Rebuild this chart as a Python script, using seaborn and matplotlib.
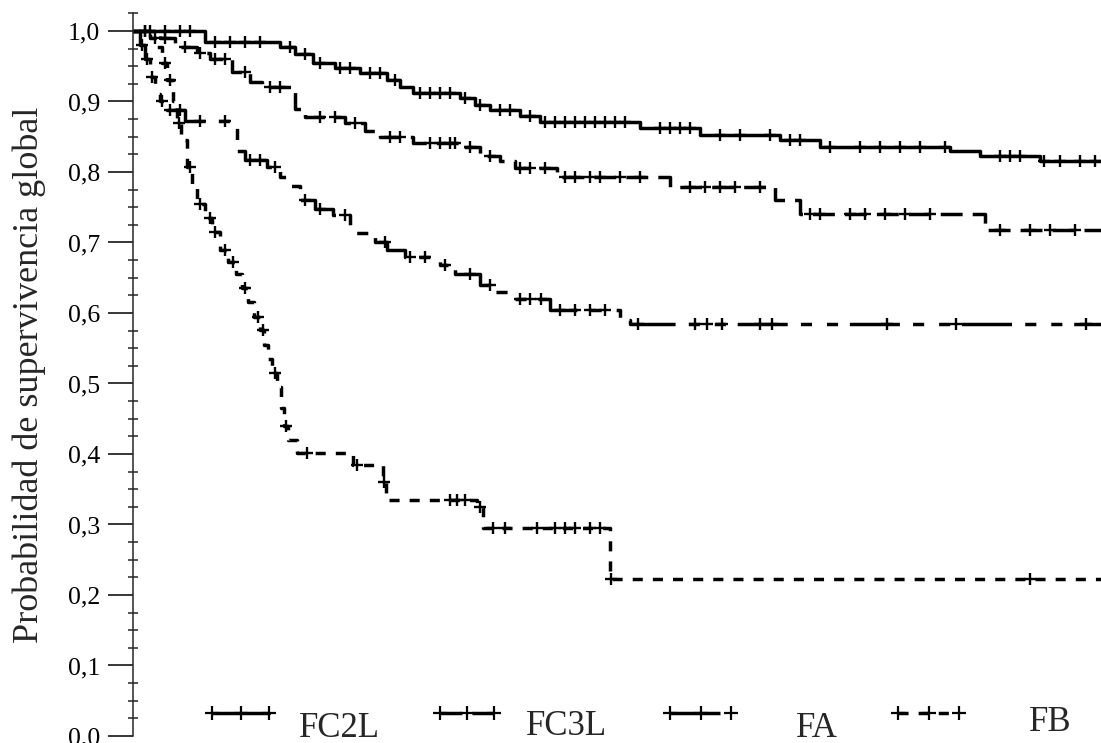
import numpy as np
import pandas as pd
import matplotlib
matplotlib.use("Agg")
import matplotlib.pyplot as plt
import seaborn as sns
from matplotlib.lines import Line2D
from matplotlib.ticker import MultipleLocator, FuncFormatter

# ---------------- data ----------------
groups = ["FC2L", "FC3L", "FA", "FB"]
t_end = 160  # months, right edge of the visible plot

fc2l_t = [0, 11.9, 24.3, 26.8, 29.8, 33.4, 37.5, 42.0, 44.1, 46.3, 54.0, 56.5, 59.0,
          64.0, 67.3, 83.8, 93.7, 106.9, 113.6, 135.0, 140.0, 149.9]
fc2l_s = [1.0, 0.984, 0.977, 0.968, 0.955, 0.948, 0.94, 0.93, 0.92, 0.912, 0.905, 0.895,
          0.888, 0.88, 0.871, 0.862, 0.852, 0.845, 0.836, 0.83, 0.823, 0.815]
fc2l_cens = [2.8, 5.3, 7.8, 9.4, 13.6, 16.0, 18.5, 21.0, 26.0, 28.4, 30.9, 34.2, 35.9,
             39.2, 40.8, 43.3, 47.4, 49.1, 50.7, 52.4, 54.9, 57.4, 60.7, 62.3, 65.6,
             68.1, 69.8, 71.4, 73.1, 74.7, 76.4, 78.0, 79.7, 81.3, 87.1, 88.8, 90.4,
             92.1, 97.0, 100.3, 105.3, 108.6, 110.3, 115.2, 120.2, 123.5, 126.8, 130.1,
             134.2, 143.3, 145.0, 146.6, 150.5, 153.2, 156.5, 159.0]

fc3l_t = [0, 4.5, 6.9, 10.6, 12.7, 16.4, 19.3, 21.3, 26.8, 28.4, 35.0, 38.3, 40.8, 46.3,
          54.0, 57.4, 60.7, 63.1, 70.1, 88.8, 106.1, 110.3, 140.8]
fc3l_s = [1.0, 0.99, 0.977, 0.969, 0.96, 0.942, 0.928, 0.921, 0.89, 0.878, 0.87, 0.858,
          0.85, 0.841, 0.835, 0.822, 0.815, 0.806, 0.793, 0.778, 0.76, 0.74, 0.717]
fc3l_cens = [2.0, 5.3, 8.6, 11.1, 13.6, 15.2, 18.5, 22.6, 24.3, 30.9, 33.4, 36.7, 42.5,
             44.1, 49.1, 50.7, 52.4, 53.2, 55.7, 59.0, 64.0, 65.6, 68.1, 71.4, 73.1,
             75.5, 77.2, 80.5, 83.8, 92.1, 94.6, 97.0, 99.5, 103.6, 111.9, 113.6, 118.5,
             121.0, 124.3, 127.6, 131.7, 143.3, 148.3, 151.6, 155.7]

fa_t = [0, 1.2, 2.0, 2.8, 3.6, 4.5, 5.6, 8.6, 17.2, 18.5, 22.1, 24.3, 26.0, 27.6, 30.1,
        33.1, 35.9, 40.0, 42.0, 45.0, 50.7, 53.2, 57.4, 59.8, 62.3, 68.9, 80.5, 82.1]
fa_s = [1.0, 0.98, 0.96, 0.935, 0.91, 0.9, 0.888, 0.873, 0.83, 0.817, 0.807, 0.793, 0.78,
        0.76, 0.747, 0.739, 0.713, 0.7, 0.69, 0.68, 0.668, 0.655, 0.64, 0.63, 0.62, 0.604,
        0.59, 0.585]
fa_cens = [1.5, 2.3, 3.1, 4.8, 6.1, 7.8, 11.1, 15.2, 19.3, 21.0, 23.5, 28.5, 30.9, 35.0,
           41.7, 45.8, 48.3, 51.6, 55.7, 59.0, 64.0, 65.6, 67.5, 70.6, 73.1, 75.5, 78.0,
           83.5, 92.9, 94.9, 97.4, 103.6, 105.6, 124.6, 136.0, 157.5]

fb_t = [0, 2.8, 4.0, 4.8, 5.6, 6.6, 7.3, 7.9, 8.9, 9.8, 10.6, 11.9, 13.1, 14.4, 15.7,
        17.0, 18.0, 19.0, 20.0, 21.0, 21.7, 22.3, 23.0, 23.8, 24.5, 25.0, 25.6, 27.1,
        36.4, 41.3, 41.8, 56.9, 57.9, 78.8]
fb_s = [1.0, 0.99, 0.977, 0.955, 0.93, 0.9, 0.87, 0.845, 0.807, 0.78, 0.755, 0.735, 0.715,
        0.69, 0.672, 0.655, 0.635, 0.615, 0.595, 0.576, 0.555, 0.535, 0.515, 0.495, 0.465,
        0.44, 0.42, 0.401, 0.384, 0.36, 0.335, 0.325, 0.295, 0.222]
fb_cens = [2.0, 3.6, 5.3, 6.1, 7.6, 9.4, 11.1, 12.7, 13.6, 15.2, 16.5, 18.5, 20.7, 21.5,
           23.4, 25.3, 28.8, 37.0, 41.5, 52.4, 53.6, 54.9, 57.4, 59.5, 61.5, 66.8, 69.8,
           71.4, 73.1, 75.5, 77.2, 79.0, 148.3]

y_ticks = [0.0, 0.1, 0.2, 0.3, 0.4, 0.5, 0.6, 0.7, 0.8, 0.9, 1.0]
y_label = "Probabilidad de supervivencia global"

# ---------------- styling ----------------
LW = 2.5
dashes = {"FC2L": "", "FC3L": (6.3, 2.9), "FA": (14.4, 3.8, 3.2, 4.3, 3.2, 3.4),
          "FB": (2.9, 2.9)}

sns.set_style("ticks")
plt.rcParams["font.family"] = ["Liberation Serif", "DejaVu Serif"]

series = {
    "FC2L": (fc2l_t, fc2l_s, fc2l_cens),
    "FC3L": (fc3l_t, fc3l_s, fc3l_cens),
    "FA": (fa_t, fa_s, fa_cens),
    "FB": (fb_t, fb_s, fb_cens),
}

curve_frames, cens_frames = [], []
for g in groups:
    t, s, c = series[g]
    tt = list(t) + [t_end]
    ss = list(s) + [s[-1]]
    curve_frames.append(pd.DataFrame({"grupo": g, "tiempo": tt, "superv": ss}))
    idx = np.searchsorted(np.asarray(t), np.asarray(c), side="right") - 1
    cens_frames.append(pd.DataFrame({"grupo": g, "tiempo": c,
                                     "superv": np.asarray(s)[idx]}))
curves = pd.concat(curve_frames, ignore_index=True)
cens = pd.concat(cens_frames, ignore_index=True)

fig = plt.figure(figsize=(11.01, 7.43), dpi=100)
ax = fig.add_axes([133 / 1101, 7 / 743, 968 / 1101, 723 / 743])

sns.lineplot(data=curves, x="tiempo", y="superv", hue="grupo", style="grupo",
             hue_order=groups, style_order=groups,
             palette={g: "black" for g in groups}, dashes=dashes,
             drawstyle="steps-post", estimator=None, sort=False,
             linewidth=LW, legend=False, ax=ax)
sns.scatterplot(data=cens, x="tiempo", y="superv", marker="+", color="black",
                s=80, linewidth=1.7, legend=False, ax=ax, zorder=3)

ax.set_xlim(0, t_end)
ax.set_ylim(0, 1.0255)
ax.set_yticks(y_ticks)
ax.yaxis.set_minor_locator(MultipleLocator(0.025))
ax.yaxis.set_major_formatter(FuncFormatter(lambda v, p: f"{v:.1f}".replace(".", ",")))
ax.set_xticks([])
ax.set_xlabel("")
ax.set_ylabel(y_label, fontsize=26)
ax.yaxis.set_label_coords(-0.09, 0.5)
for side in ["top", "right", "bottom"]:
    ax.spines[side].set_visible(False)
ax.spines["left"].set_linewidth(1.1)
ax.tick_params(axis="y", which="major", length=18, width=1.1, direction="out",
               labelsize=18.5, pad=5.8, colors="black")
ax.tick_params(axis="y", which="minor", length=6.5, width=1.1, direction="inout")

# legend: one entry per group, laid out like the reference
leg_specs = {
    # group: (handle left px, handletextpad, handlelength, handleheight, bottom px)
    "FC2L": (202, 0.57, 2.23, 2.94, 764.4),
    "FC3L": (430, 0.63, 2.14, 2.56, 757.8),
    "FA": (660, 1.57, 2.34, 2.94, 764.4),
    "FB": (888, 1.71, 2.34, 1.80, 744.5),
}
for g in groups:
    x0, pad, hl, hh, bot = leg_specs[g]
    d = dashes[g]
    if d == "":
        h = Line2D([], [], color="black", lw=LW, ls="-", marker="+",
                   markersize=10, mew=1.6)
    else:
        h = Line2D([], [], color="black", lw=LW, dashes=d, marker="+",
                   markersize=10, mew=1.6)
    fig.legend([h], [g], loc="lower left",
               bbox_to_anchor=(x0 / 1101, (743 - bot) / 743),
               bbox_transform=fig.transFigure, frameon=False, fontsize=25,
               handlelength=hl, handletextpad=pad, handleheight=hh,
               numpoints=3, borderpad=0, borderaxespad=0)

fig.savefig("out.png", dpi=100, facecolor="white")
